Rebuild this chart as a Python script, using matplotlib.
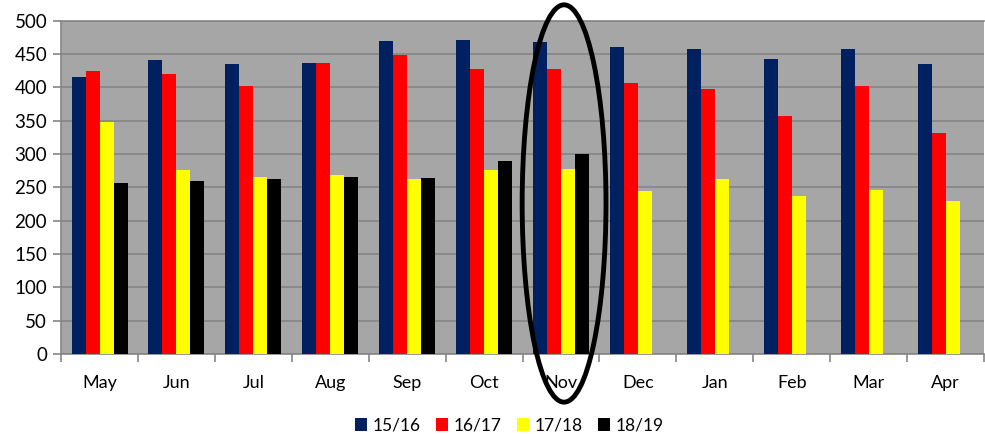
import numpy as np
import matplotlib
matplotlib.use('Agg')
import matplotlib.pyplot as plt
from matplotlib.patches import Ellipse, Patch

plt.rcParams['font.family'] = ['Lato', 'DejaVu Sans']

months = ['May', 'Jun', 'Jul', 'Aug', 'Sep', 'Oct', 'Nov', 'Dec', 'Jan', 'Feb', 'Mar', 'Apr']
seasons = ['15/16', '16/17', '17/18', '18/19']
s1516 = [416, 441, 435, 436, 469, 471, 468, 460, 458, 443, 458, 435]
s1617 = [425, 420, 402, 437, 448, 427, 428, 407, 397, 357, 402, 332]
s1718 = [348, 276, 265, 269, 263, 276, 277, 244, 262, 237, 246, 229]
s1819 = [256, 260, 262, 266, 264, 289, 300]
colors = ['#002060', '#FF0000', '#FFFF00', '#000000']

fig = plt.figure(figsize=(9.85, 4.34), dpi=100)
ax = fig.add_axes([0.062, 0.184, 0.937, 0.768])
ax.set_facecolor('#A6A6A6')

w = 0.182
x = np.arange(len(months))
for i, vals in enumerate([s1516, s1617, s1718, s1819]):
    xi = np.arange(len(vals))
    ax.bar(xi + (i - 1.5) * w, vals, w, color=colors[i], zorder=3, label=seasons[i])

ax.set_xlim(-0.5, 11.5)
ax.set_ylim(0, 500)
ax.set_yticks(range(0, 501, 50))
ax.grid(axis='y', color='#858585', linewidth=1.2, zorder=1)
ax.set_xticks(x)
ax.set_xticklabels(months)
ax.set_xticks(np.arange(-0.5, 12, 1), minor=True)
ax.tick_params(axis='x', which='major', length=0, pad=15, labelsize=13)
ax.tick_params(axis='x', which='minor', length=6, color='#858585', width=1.2)
ax.tick_params(axis='y', length=6, color='#858585', width=1.2, labelsize=13.5, pad=4)
for s in ax.spines.values():
    s.set_color('#858585')
    s.set_linewidth(1.2)
ax.spines['right'].set_visible(False)

# highlight Nov
ell = Ellipse((6.04, 226), 1.09, 596, fill=False, edgecolor='black', linewidth=3.5,
              clip_on=False, zorder=5)
ax.add_patch(ell)

handles = [Patch(facecolor=c, edgecolor='none') for c in colors]
fig.legend(handles, seasons, loc='lower center', bbox_to_anchor=(0.517, -0.035), ncol=4,
           frameon=False, fontsize=12.5, handlelength=0.7, handleheight=0.7,
           handletextpad=0.3, columnspacing=0.9)

fig.savefig('out.png', dpi=100)
